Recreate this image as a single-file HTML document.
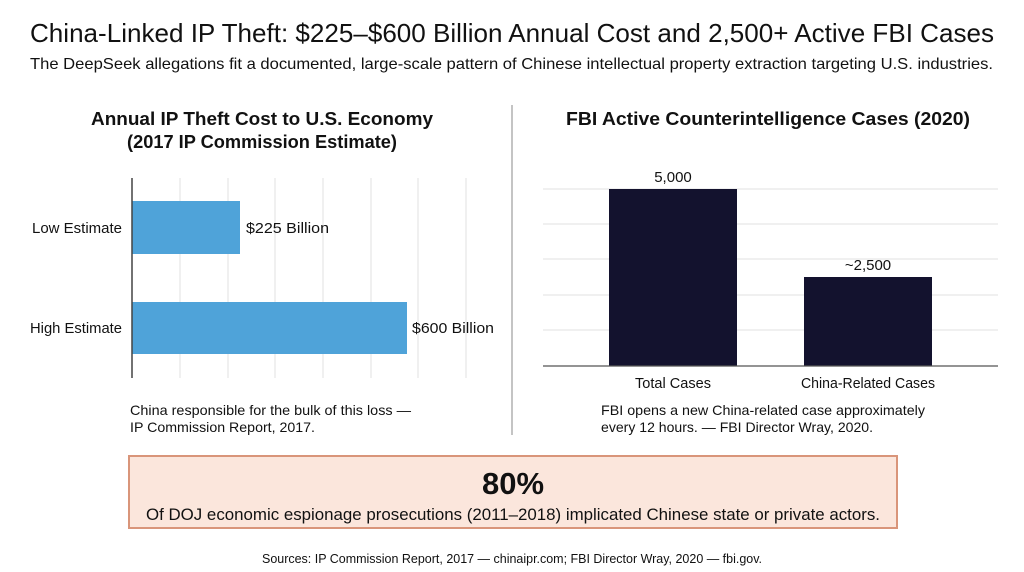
<!DOCTYPE html>
<html><head><meta charset="utf-8"><style>
html,body{margin:0;padding:0;background:#fff;}
svg{display:block;font-family:"Liberation Sans",sans-serif;}
</style></head><body>
<svg width="1024" height="572" viewBox="0 0 1024 572" xmlns="http://www.w3.org/2000/svg">
<rect width="1024" height="572" fill="#fff"/>
<text x="30" y="42" font-size="26" fill="#111" textLength="964" lengthAdjust="spacingAndGlyphs">China-Linked IP Theft: $225–$600 Billion Annual Cost and 2,500+ Active FBI Cases</text>
<text x="30" y="69" font-size="16" fill="#111" textLength="963" lengthAdjust="spacingAndGlyphs">The DeepSeek allegations fit a documented, large-scale pattern of Chinese intellectual property extraction targeting U.S. industries.</text>
<text x="262" y="125" font-size="18" font-weight="bold" fill="#111" text-anchor="middle" textLength="342" lengthAdjust="spacingAndGlyphs">Annual IP Theft Cost to U.S. Economy</text>
<text x="262" y="148" font-size="18" font-weight="bold" fill="#111" text-anchor="middle" textLength="270" lengthAdjust="spacingAndGlyphs">(2017 IP Commission Estimate)</text>
<g stroke="#e2e2e2" stroke-width="1">
<line x1="180" y1="178" x2="180" y2="378"/><line x1="228" y1="178" x2="228" y2="378"/><line x1="275" y1="178" x2="275" y2="378"/><line x1="323" y1="178" x2="323" y2="378"/><line x1="371" y1="178" x2="371" y2="378"/><line x1="418" y1="178" x2="418" y2="378"/><line x1="466" y1="178" x2="466" y2="378"/>
</g>
<rect x="132" y="201" width="108" height="53" fill="#4fa3d9"/>
<rect x="132" y="302" width="275" height="52" fill="#4fa3d9"/>
<line x1="132" y1="178" x2="132" y2="378" stroke="#444" stroke-width="1.5"/>
<text x="122" y="233" font-size="15" fill="#111" text-anchor="end" textLength="90" lengthAdjust="spacingAndGlyphs">Low Estimate</text>
<text x="122" y="333" font-size="15" fill="#111" text-anchor="end" textLength="92" lengthAdjust="spacingAndGlyphs">High Estimate</text>
<text x="246" y="233" font-size="15" fill="#111" textLength="83" lengthAdjust="spacingAndGlyphs">$225 Billion</text>
<text x="412" y="333" font-size="15" fill="#111" textLength="82" lengthAdjust="spacingAndGlyphs">$600 Billion</text>
<text x="130" y="415" font-size="14" fill="#111" textLength="281" lengthAdjust="spacingAndGlyphs">China responsible for the bulk of this loss —</text>
<text x="130" y="432" font-size="14" fill="#111" textLength="185" lengthAdjust="spacingAndGlyphs">IP Commission Report, 2017.</text>
<line x1="512" y1="105" x2="512" y2="435" stroke="#888" stroke-width="1"/>
<text x="768" y="125" font-size="18" font-weight="bold" fill="#111" text-anchor="middle" textLength="404" lengthAdjust="spacingAndGlyphs">FBI Active Counterintelligence Cases (2020)</text>
<g stroke="#e2e2e2" stroke-width="1">
<line x1="543" y1="189" x2="998" y2="189"/><line x1="543" y1="224" x2="998" y2="224"/><line x1="543" y1="259" x2="998" y2="259"/><line x1="543" y1="295" x2="998" y2="295"/><line x1="543" y1="330" x2="998" y2="330"/>
</g>
<rect x="609" y="189" width="128" height="177" fill="#13122e"/>
<rect x="804" y="277" width="128" height="89" fill="#13122e"/>
<line x1="543" y1="366" x2="998" y2="366" stroke="#555" stroke-width="1.2"/>
<text x="673" y="182" font-size="15" fill="#111" text-anchor="middle">5,000</text>
<text x="868" y="270" font-size="15" fill="#111" text-anchor="middle">~2,500</text>
<text x="673" y="388" font-size="14.5" fill="#111" text-anchor="middle" textLength="76" lengthAdjust="spacingAndGlyphs">Total Cases</text>
<text x="868" y="388" font-size="14.5" fill="#111" text-anchor="middle" textLength="134" lengthAdjust="spacingAndGlyphs">China-Related Cases</text>
<text x="601" y="415" font-size="14" fill="#111" textLength="324" lengthAdjust="spacingAndGlyphs">FBI opens a new China-related case approximately</text>
<text x="601" y="432" font-size="14" fill="#111" textLength="272" lengthAdjust="spacingAndGlyphs">every 12 hours. — FBI Director Wray, 2020.</text>
<rect x="129" y="456" width="768" height="72" fill="#fbe6dc" stroke="#d9957a" stroke-width="2"/>
<text x="513" y="494" font-size="31" font-weight="bold" fill="#111" text-anchor="middle">80%</text>
<text x="513" y="520" font-size="17" fill="#111" text-anchor="middle" textLength="734" lengthAdjust="spacingAndGlyphs">Of DOJ economic espionage prosecutions (2011–2018) implicated Chinese state or private actors.</text>
<text x="512" y="563" font-size="13" fill="#111" text-anchor="middle" textLength="500" lengthAdjust="spacingAndGlyphs">Sources: IP Commission Report, 2017 — chinaipr.com; FBI Director Wray, 2020 — fbi.gov.</text>
</svg>
</body></html>
